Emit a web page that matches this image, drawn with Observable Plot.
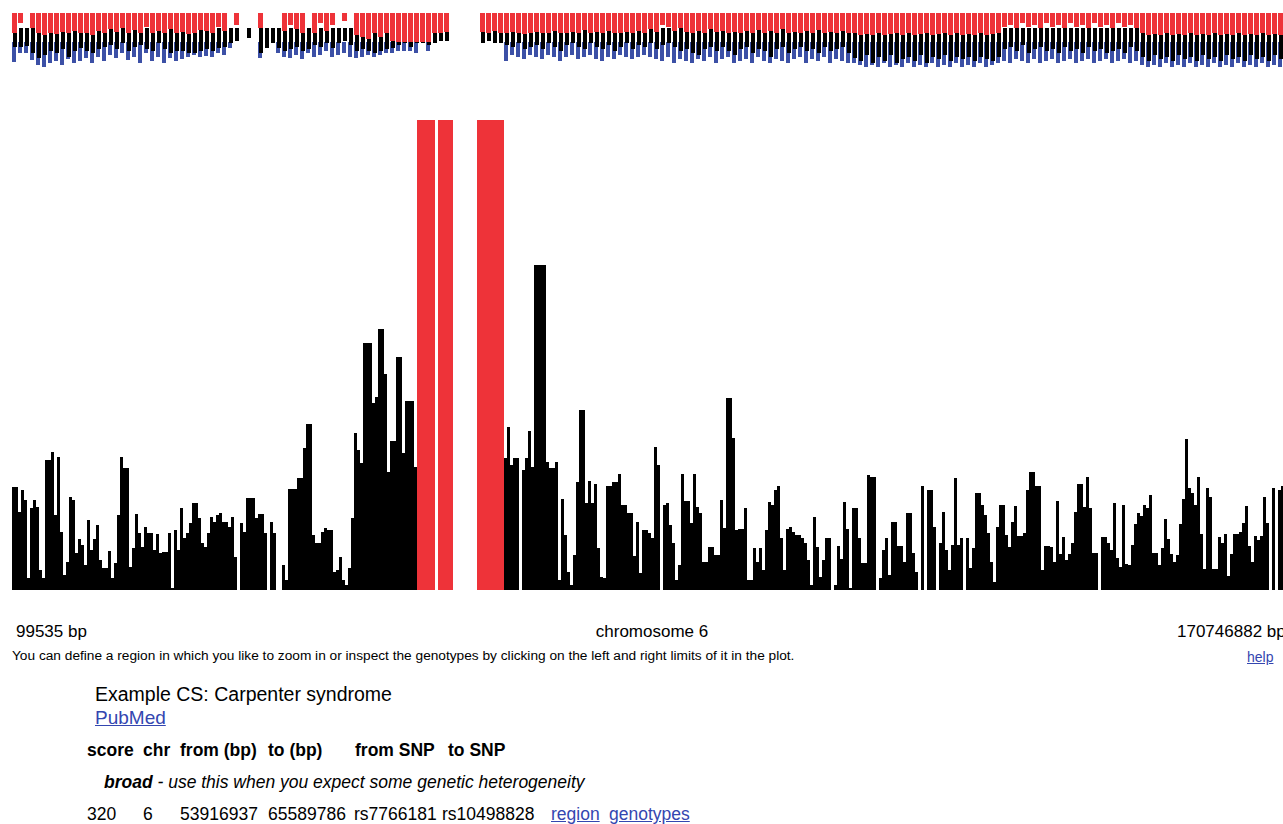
<!DOCTYPE html>
<html><head><meta charset="utf-8">
<script src="https://cdn.jsdelivr.net/npm/d3@7"></script>
<script src="https://cdn.jsdelivr.net/npm/@observablehq/plot@0.6"></script>
<style>
html,body{margin:0;padding:0;background:#fff;overflow:hidden;}
body{width:1283px;height:824px;position:relative;font-family:"Liberation Sans",Arial,Helvetica,sans-serif;color:#000;}
#chart{position:absolute;left:0;top:0;width:1300px;height:600px;}
#chart svg{position:absolute;left:0;top:0;max-width:none;shape-rendering:crispEdges;background:transparent;}
.t{position:absolute;white-space:nowrap;line-height:1;}
a{color:#3446b0;text-decoration:underline;}
</style></head><body>
<div id="chart"></div>
<div id="texts"></div>
<script>
// ---- data ----
const chromName = "chromosome 6";
const chromStart = 99535, chromEnd = 170746882;
const binSize = 400000;           // genomic bin width of score bars (bp)
const maxScore = 470;             // score of the red (maximal) bins
const scores = [
103,103,78,100,90,12,82,90,83,20,
12,130,130,138,75,133,58,15,28,93,
90,37,51,45,25,70,40,51,65,30,
22,22,39,12,27,75,133,122,122,23,
42,76,57,43,63,57,57,40,56,37,
38,38,57,2,60,40,82,52,57,67,
87,87,72,47,43,57,73,68,75,77,
68,68,63,73,33,0,67,58,92,92,
92,72,76,76,57,0,68,57,0,0,
25,10,101,101,101,112,112,142,166,166,
55,47,47,58,62,60,60,18,20,33,
10,5,22,72,157,140,127,247,247,247,
187,193,261,261,216,118,149,149,233,233,
137,189,189,189,123,470,470,470,470,470,
470,0,470,470,470,470,470,0,0,0,
0,0,0,0,0,470,470,470,470,470,
470,470,470,470,132,163,125,132,132,0,
120,132,159,123,325,325,325,325,128,122,
122,128,10,91,55,18,5,35,108,180,
180,87,109,87,106,42,13,12,104,104,
108,108,116,85,85,77,77,34,68,17,
60,60,57,52,143,125,0,85,87,65,
47,10,25,116,89,89,67,116,83,77,
28,28,43,43,35,35,90,62,192,192,
152,60,61,61,82,10,10,42,28,42,
20,60,88,85,100,104,52,20,61,63,
58,55,55,52,47,30,5,73,43,13,
30,52,52,0,5,44,31,88,61,2,
82,82,52,27,27,115,113,113,0,12,
40,52,15,68,68,44,44,28,77,77,
37,18,0,104,0,100,100,63,0,47,
78,40,20,45,112,45,52,0,52,22,
42,97,97,85,75,57,28,8,63,85,
85,55,43,68,84,54,54,57,100,118,
118,104,104,20,44,44,43,28,89,36,
53,30,36,47,78,106,106,83,113,82,
37,37,0,53,53,47,40,87,32,23,
85,26,25,45,66,77,74,85,82,95,
37,37,25,42,71,51,36,28,35,66,
91,151,102,97,85,113,56,21,102,93,
21,21,53,47,56,14,36,56,56,58,
67,84,44,28,54,50,54,93,67,0,
102,0,100,104,80,60,75];

// genotype strip: columns of 800 kb, depth of red / black / blue bands
const stripCol = 800000;
const redDepth = [
20,10,0,15,20,22,20,21,19,20, 18,20,20,22,18,20,16,19,15,20,
17,20,14,20,18,20,16,20,19,21, 20,17,18,20,14,18,0,12,0,0,
0,15,0,0,0,18,12,16,20,0, 20,10,18,12,0,8,0,22,24,26,
20,24,20,28,29,29,29,29,29,29, 20,20,19,0,0,0,0,0,19,20,
18,20,20,19,20,21,20,19,20,20, 18,20,20,19,20,17,20,19,20,18,
20,20,19,20,18,20,16,19,12,14, 18,15,19,20,18,20,16,19,18,20,
19,20,18,20,17,20,18,20,16,20, 19,20,18,20,17,20,19,20,18,20,
20,22,21,22,20,22,21,20,22,20, 22,21,20,22,21,20,22,20,22,21,
22,20,22,21,20,14,12,15,10,14, 12,15,10,14,12,15,10,14,12,15,
10,14,12,15,10,14,12,15,20,22, 21,22,20,22,21,22,20,22,21,22,
20,22,21,22,20,22,21,22,20,22, 21,22,20];
const blackDepth = [
34,34,33,40,45,42,38,40,36,44, 38,35,38,40,36,34,32,36,30,38,
34,32,36,38,30,36,40,38,38,40, 40,38,36,38,35,34,30,28,0,25,
0,40,35,30,35,38,36,34,38,36, 32,34,30,35,30,28,32,38,36,38,
40,38,36,35,32,30,34,30,30,32, 30,28,28,0,0,0,0,0,30,28,
30,30,32,34,30,36,34,32,36,30, 34,38,32,30,34,36,30,34,36,32,
38,34,30,36,32,34,30,36,32,30, 34,38,36,40,42,36,34,38,34,38,
42,36,34,40,36,38,44,36,34,40, 36,34,38,36,40,34,38,36,34,40,
45,48,42,50,44,48,42,50,46,44, 48,42,50,44,46,42,48,44,46,44,
48,44,46,48,44,36,34,38,32,40, 36,34,38,36,40,34,38,36,40,34,
38,36,40,38,36,40,34,38,44,48, 42,46,44,48,42,46,44,48,42,46,
44,48,42,46,44,48,42,46,44,48, 42,46,44];
const blueDepth = [
49,40,40,47,52,54,50,48,52,46, 50,48,45,50,44,48,42,45,40,47,
44,50,40,48,44,50,45,48,46,44, 42,44,43,44,40,42,35,0,0,0,
0,45,0,0,40,44,45,42,46,40, 44,42,38,44,42,40,44,45,44,42,
44,42,40,40,38,38,38,40,0,38, 0,0,0,0,0,0,0,0,0,0,
0,0,48,42,44,46,42,44,46,42, 44,48,44,42,46,44,42,46,48,44,
46,42,44,46,44,42,44,46,48,44, 50,46,48,50,46,48,44,50,46,44,
50,48,46,50,44,48,50,46,48,50, 46,44,50,46,48,44,50,46,48,50,
50,52,54,52,54,50,54,52,54,50, 54,52,54,50,54,52,54,50,54,52,
54,50,54,52,50,48,50,46,48,50, 46,50,48,46,50,48,46,50,48,46,
50,48,46,50,48,46,50,48,52,54, 52,54,50,54,52,54,50,54,52,54,
50,54,52,54,50,54,52,54,50,54, 52,54,50];

const axisLabels = [chromStart + " bp", chromName, chromEnd + " bp"];
const helpText = "You can define a region in which you like to zoom in or inspect the genotypes by clicking on the left and right limits of it in the plot.";
const exampleTitle = "Example CS: Carpenter syndrome";
const headers = ["score", "chr", "from (bp)", "to (bp)", "from SNP", "to SNP"];
const rowValues = ["320", "6", "53916937", "65589786", "rs7766181", "rs10498828"];
const rowLinks = ["region", "genotypes"];

// ---- styles ----
const RED = "#ee3339", BLUE = "#3c50a6";
const xScale = {domain: [chromStart, chromEnd], range: [12, 1292], axis: null};

const bars = scores.map((s, i) => ({start: chromStart + i * binSize, end: chromStart + (i + 1) * binSize, score: s}))
  .filter(d => d.score > 0);

const barPlot = Plot.plot({
  width: 1300, height: 600,
  x: xScale,
  y: {domain: [0, maxScore], range: [590, 120], axis: null},
  color: {type: "identity"},
  marks: [
    Plot.rectY(bars, {x1: "start", x2: "end", y: "score", fill: d => d.score >= maxScore * 0.9 ? RED : "#000"})
  ]
});

const strip = redDepth.map((r, i) => ({start: chromStart + i * stripCol, end: chromStart + (i + 1) * stripCol, r, k: blackDepth[i], b: blueDepth[i]}));
const stripPlot = Plot.plot({
  width: 1300, height: 75,
  x: xScale,
  y: {domain: [0, 56], range: [13, 69], axis: null},
  marks: [
    Plot.rect(strip.filter(d => d.b > 0), {x1: "start", x2: "end", y1: 29, y2: "b", fill: BLUE, insetRight: 2}),
    Plot.rect(strip.filter(d => d.k > 0), {x1: "start", x2: "end", y1: 15, y2: "k", fill: "#000", insetLeft: 1, insetRight: 1.5}),
    Plot.rect(strip.filter(d => d.r > 0), {x1: "start", x2: "end", y1: 0, y2: "r", fill: RED, insetRight: 1.5})
  ]
});
const chart = document.getElementById("chart");
chart.appendChild(barPlot);
chart.appendChild(stripPlot);

// ---- texts ----
const T = document.getElementById("texts");
function put(txt, left, baseline, size, opts = {}) {
  const el = document.createElement(opts.link ? "a" : "div");
  if (opts.link) el.href = "#";
  el.className = "t";
  el.textContent = txt;
  el.style.fontSize = size + "px";
  el.style.top = (baseline - 0.8465 * size) + "px";
  if (opts.anchor === "middle") { el.style.left = left + "px"; el.style.transform = "translateX(-50%)"; }
  else el.style.left = left + "px";
  if (opts.bold) el.style.fontWeight = "bold";
  if (opts.italic) el.style.fontStyle = "italic";
  if (opts.ls) el.style.letterSpacing = opts.ls + "px";
  T.appendChild(el);
  return el;
}
put(axisLabels[0], 16, 637, 17);
put(axisLabels[1], 652, 637, 17, {anchor: "middle"});
put(axisLabels[2], 1177, 637, 17);
put(helpText, 12, 661, 13.7);
put("help", 1247, 662, 14, {link: true});
put(exampleTitle, 95, 702, 19.5);
put("PubMed", 95, 724, 19, {link: true});
const headerX = [87, 143, 180, 268, 355, 448];
headers.forEach((h, i) => put(h, headerX[i], 757, 17.5, {bold: true}));
const broad = put("", 104, 789, 17.5, {italic: true});
broad.innerHTML = "<b>broad</b> - use this when you expect some genetic heterogeneity";
const rowX = [87, 143, 180, 268, 354, 442];
rowValues.forEach((v, i) => put(v, rowX[i], 821, 17.5));
const linkX = [551, 609];
rowLinks.forEach((v, i) => put(v, linkX[i], 821, 17.5, {link: true}));
</script>
</body></html>
